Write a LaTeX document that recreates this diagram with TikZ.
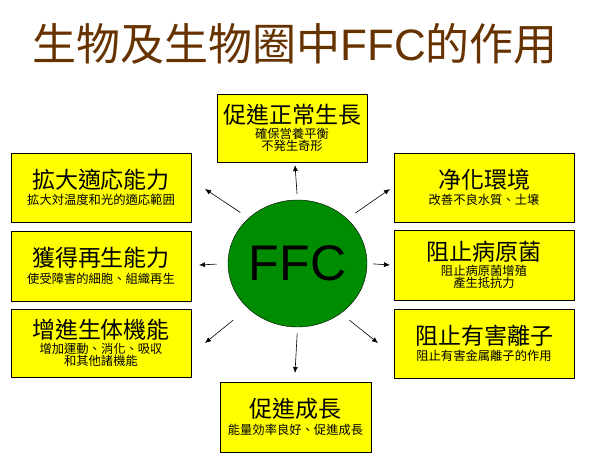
\documentclass[tikz,border=0pt]{standalone}
\usepackage{fontspec}
\setmainfont{Noto Sans CJK TC}
\newfontfamily\arialfont{Liberation Sans}
\usetikzlibrary{arrows.meta,shapes.geometric}
\definecolor{ffcgreen}{RGB}{0,140,0}
\definecolor{ffcyellow}{RGB}{255,255,0}
\definecolor{ttlbrown}{RGB}{102,51,0}
\newcommand{\bighead}[1]{{\fontsize{23}{27}\selectfont #1}}
\newcommand{\smallnote}[1]{{\fontsize{12.3}{14}\selectfont #1}}
\tikzset{
  effbox/.style={rectangle,draw=black,line width=0.9pt,fill=ffcyellow,minimum width=180pt,minimum height=69pt,align=center,inner sep=2pt},
  ffcnode/.style={ellipse,draw=black,thin,fill=ffcgreen,minimum width=139pt,minimum height=127pt,inner sep=0pt,font=\arialfont\fontsize{50}{50}\selectfont},
  outarr/.style={-{Latex[length=6pt,width=5pt]},semithick,black},
  ttlnode/.style={font=\fontsize{44}{48}\selectfont,text=ttlbrown,inner sep=0pt},
}

\begin{document}
\begin{tikzpicture}[x=1pt,y=-1pt]
  \useasboundingbox (0,0) rectangle (590,461);
  \node[ttlnode] (nTitle) at (295,44) {生物及生物圈中{\arialfont FFC}的作用};
  % centre
  \node[ffcnode] (nFFC) at (297.5,263.5) {FFC};
  % boxes
  \node[effbox,minimum width=150pt,minimum height=68pt] (nTop) at (292,128)
    {\bighead{促進正常生長}\\[2pt]\smallnote{確保営養平衡}\\\smallnote{不発生奇形}};
  \node[effbox] (nL1) at (101,187.5)
    {\bighead{拡大適応能力}\\[3pt]\smallnote{拡大対温度和光的適応範囲}};
  \node[effbox] (nR1) at (484,187.5)
    {\bighead{净化環境}\\[3pt]\smallnote{改善不良水質、土壌}};
  \node[effbox,minimum height=70pt] (nL2) at (101,266)
    {\bighead{獲得再生能力}\\[3pt]\smallnote{使受障害的細胞、組織再生}};
  \node[effbox,minimum height=70pt] (nR2) at (484,265)
    {\bighead{阻止病原菌}\\[2pt]\smallnote{阻止病原菌增殖}\\\smallnote{產生抵抗力}};
  \node[effbox,minimum height=68pt] (nL3) at (101,343)
    {\bighead{增進生体機能}\\[2pt]\smallnote{增加運動、消化、吸収}\\\smallnote{和其他諸機能}};
  \node[effbox] (nR3) at (484,343.5)
    {\bighead{阻止有害離子}\\[3pt]\smallnote{阻止有害金属離子的作用}};
  \node[effbox,minimum width=151pt,minimum height=70pt] (nBot) at (295.5,417)
    {\bighead{促進成長}\\[3pt]\smallnote{能量効率良好、促進成長}};
  % arrow tips
  \coordinate (tTop) at (295,165);
  \coordinate (tBot) at (295,373);
  \coordinate (tL1) at (205,189);
  \coordinate (tR1) at (390,189);
  \coordinate (tL2) at (199,265);
  \coordinate (tR2) at (390,265);
  \coordinate (tL3) at (205,343);
  \coordinate (tR3) at (378,343);
  \draw[outarr,shorten <=6pt] (nFFC.north) -- (tTop);
  \draw[outarr,shorten <=6pt] (nFFC.south) -- (tBot);
  \draw[outarr,shorten <=10pt] (nFFC.137.6) -- (tL1);
  \draw[outarr,shorten <=10pt] (nFFC.42.4) -- (tR1);
  \draw[outarr,shorten <=11pt] (nFFC.west) -- (tL2);
  \draw[outarr,shorten <=6pt] (nFFC.east) -- (tR2);
  \draw[outarr,shorten <=19pt] (nFFC.222.2) -- (tL3);
  \draw[outarr,shorten <=11pt] (nFFC.311.3) -- (tR3);
\end{tikzpicture}
\end{document}
